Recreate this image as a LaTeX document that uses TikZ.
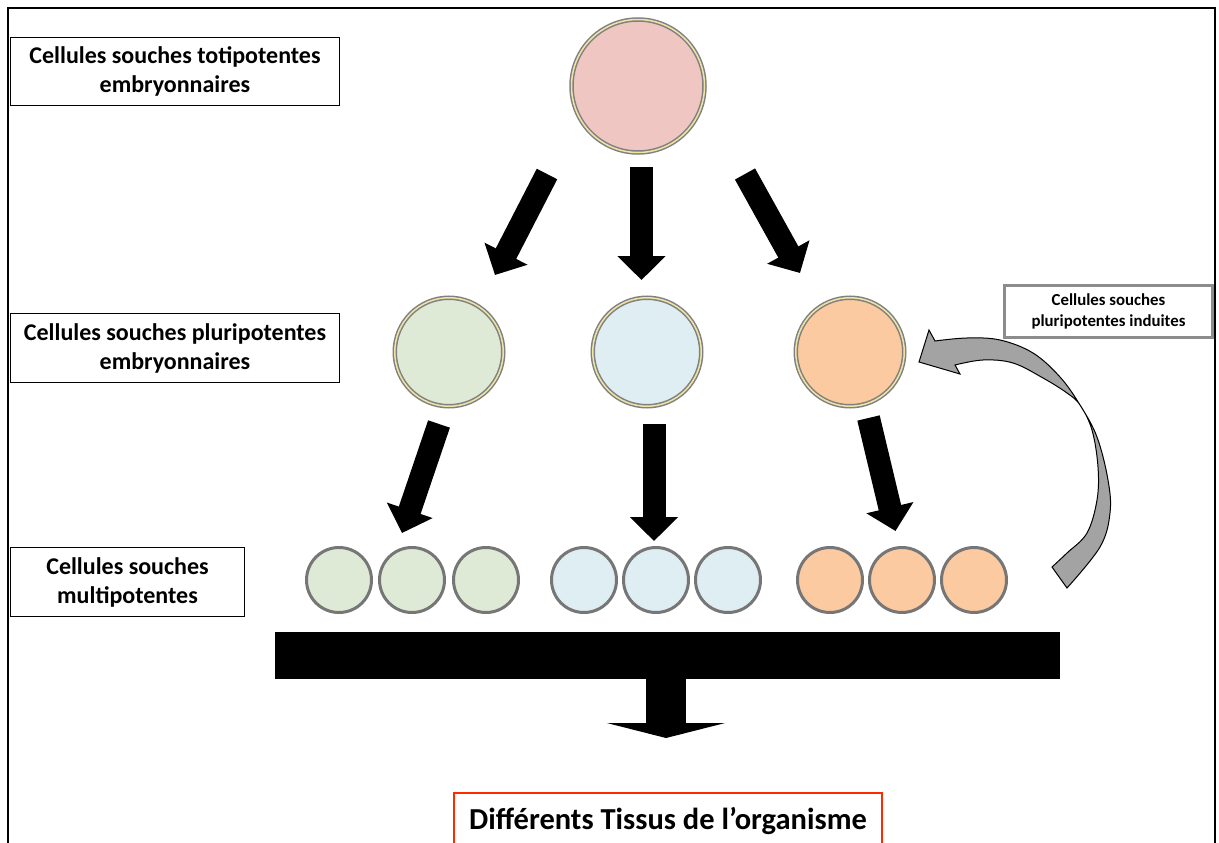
\documentclass[tikz,border=0pt]{standalone}
\usepackage{fontspec}
\setmainfont{Carlito}
\usetikzlibrary{arrows.meta}
\definecolor{pinkc}{HTML}{EFC6C1}
\definecolor{greenc}{HTML}{DEEAD5}
\definecolor{bluec}{HTML}{DEEEF2}
\definecolor{orangec}{HTML}{FBCAA0}
\definecolor{rimgray}{HTML}{808080}
\definecolor{rimcream}{HTML}{EEE4A6}
\definecolor{smallrim}{HTML}{767676}
\definecolor{redc}{HTML}{FF2A00}
\definecolor{boxgray}{HTML}{8C8C8C}
\definecolor{arrowgray}{HTML}{A3A3A3}
\begin{document}
\begin{tikzpicture}[x=1pt,y=-1pt,
  labelbox/.style={draw=black, line width=1.3pt, align=center, inner sep=0pt,
    font=\bfseries\fontsize{24}{29}\selectfont},
  bigcell/.style={circle, draw=rimgray, line width=4.5pt, inner sep=0pt,
    postaction={draw=rimcream, line width=1.5pt}},
  smallcell/.style={circle, draw=smallrim, line width=3pt, inner sep=0pt, minimum size=65pt},
  blockarrow/.style={line width=23pt, -{Triangle[length=24pt,width=47pt]}}
]
\useasboundingbox (0,0) rectangle (1219,843);
\fill[white] (0,0) rectangle (1219,843);
\draw[line width=2pt] (8,8) rectangle (1215,880);

% labels
\node[labelbox, minimum width=329pt, minimum height=68pt] (lab1) at (175,71.5)
  {Cellules souches totipotentes\\embryonnaires};
\node[labelbox, minimum width=329pt, minimum height=69pt] (lab2) at (175,348)
  {Cellules souches pluripotentes\\embryonnaires};
\node[labelbox, minimum width=234pt, minimum height=69pt] (lab3) at (127.5,582)
  {Cellules souches\\multipotentes};
\node[draw=boxgray, line width=3pt, align=center, inner sep=0pt,
  minimum width=208pt, minimum height=52pt,
  font=\bfseries\fontsize{16.8}{21}\selectfont] (lab4) at (1108.5,311.5)
  {Cellules souches\\pluripotentes induites};

% cells
\node[bigcell, fill=pinkc, minimum size=133pt] (top) at (638,86) {};
\node[bigcell, fill=greenc, minimum size=108.5pt] (pg) at (449,352) {};
\node[bigcell, fill=bluec, minimum size=108.5pt] (pb) at (647,352) {};
\node[bigcell, fill=orangec, minimum size=108.5pt] (po) at (850,352) {};

\node[smallcell, fill=greenc] (g1) at (339,580) {};
\node[smallcell, fill=greenc] (g2) at (412,580) {};
\node[smallcell, fill=greenc] (g3) at (486,580) {};
\node[smallcell, fill=bluec] (b1) at (584,580) {};
\node[smallcell, fill=bluec] (b2) at (656,580) {};
\node[smallcell, fill=bluec] (b3) at (728,580) {};
\node[smallcell, fill=orangec] (o1) at (830,580) {};
\node[smallcell, fill=orangec] (o2) at (902,580) {};
\node[smallcell, fill=orangec] (o3) at (974,580) {};

% arrows from totipotent cell
\coordinate (a1s) at (547,174); \coordinate (a1e) at (495,275);
\coordinate (a2s) at (641.5,167); \coordinate (a2e) at (641.5,280);
\coordinate (a3s) at (745,174); \coordinate (a3e) at (800,273);
\draw[blockarrow] (a1s) -- (a1e);
\draw[blockarrow] (a2s) -- (a2e);
\draw[blockarrow] (a3s) -- (a3e);

% arrows from pluripotent cells
\coordinate (b1s) at (439,424); \coordinate (b1e) at (402,533);
\coordinate (b2s) at (654,424); \coordinate (b2e) at (654,541);
\coordinate (b3s) at (868.5,418); \coordinate (b3e) at (895.5,531);
\draw[blockarrow] (b1s) -- (b1e);
\draw[blockarrow] (b2s) -- (b2e);
\draw[blockarrow] (b3s) -- (b3e);

% bar and final arrow
\node[fill=black, minimum width=785pt, minimum height=47pt, inner sep=0pt] (bar) at (667.5,655.5) {};
\coordinate (tip) at (666,738);
\draw[line width=40pt, -{Triangle[length=15pt,width=118pt]}] (bar.south -| tip) -- (tip);

% curved induced arrow
\filldraw[fill=arrowgray, draw=black, line width=1pt, line join=miter]
 (1052,567) -- (1067,588)
 -- plot[smooth, tension=0.6] coordinates {(1067,588) (1100,547) (1110,513) (1108,480) (1097,437) (1080,405) (1060,377) (1033,353) (1000,340) (967,338) (935,341)}
 -- (929,330) -- (919,362) -- (960,374) -- (955,365)
 -- plot[smooth, tension=0.6] coordinates {(955,365) (983,360) (1013,363) (1043,378) (1067,393) (1080,405) (1092,430) (1098,467) (1097,500) (1087,533) (1067,553) (1052,567)}
 -- cycle;

% final label
\node[draw=redc, line width=2pt, minimum width=428pt, minimum height=56pt, inner sep=0pt,
  font=\bfseries\fontsize{30.5}{36}\selectfont] (tissus) at (668,821)
  {Différents Tissus de l’organisme};
\end{tikzpicture}
\end{document}
